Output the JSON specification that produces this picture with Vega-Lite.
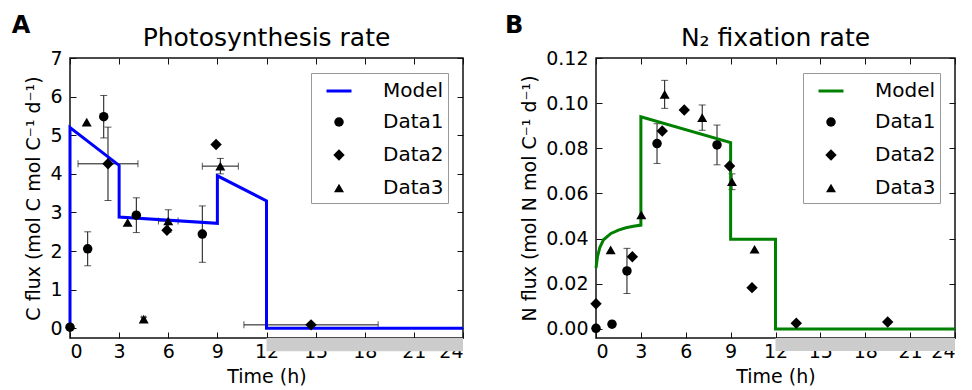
{
  "$schema": "https://vega.github.io/schema/vega-lite/v6.json",
  "background": "white",
  "padding": {"left": 11, "top": 13, "right": 8, "bottom": 2},
  "spacing": 34,
  "datasets": {
    "dark": [{"start": 12, "end": 24}],
    "modelA": [
      {"t": 0, "v": 0}, {"t": 0, "v": 5.2}, {"t": 3, "v": 4.22}, {"t": 3, "v": 2.88},
      {"t": 9, "v": 2.72}, {"t": 9, "v": 3.95}, {"t": 12, "v": 3.3}, {"t": 12, "v": 0}, {"t": 24, "v": 0}
    ],
    "dataA": [
      {"series": "Data1", "t": 0.0, "v": 0.03, "ey": 0, "ex": 0},
      {"series": "Data1", "t": 1.08, "v": 2.06, "ey": 0.44, "ex": 0},
      {"series": "Data1", "t": 2.06, "v": 5.48, "ey": 0.55, "ex": 0},
      {"series": "Data1", "t": 4.05, "v": 2.93, "ey": 0.45, "ex": 0},
      {"series": "Data1", "t": 8.08, "v": 2.44, "ey": 0.73, "ex": 0},
      {"series": "Data2", "t": 2.32, "v": 4.26, "ey": 0.95, "ex": 1.83},
      {"series": "Data2", "t": 5.92, "v": 2.54, "ey": 0, "ex": 0},
      {"series": "Data2", "t": 8.92, "v": 4.76, "ey": 0, "ex": 0},
      {"series": "Data2", "t": 14.72, "v": 0.09, "ey": 0, "ex": 4.1},
      {"series": "Data3", "t": 1.02, "v": 5.34, "ey": 0, "ex": 0},
      {"series": "Data3", "t": 3.52, "v": 2.74, "ey": 0, "ex": 0},
      {"series": "Data3", "t": 4.5, "v": 0.24, "ey": 0.05, "ex": 0.12},
      {"series": "Data3", "t": 6.0, "v": 2.78, "ey": 0.29, "ex": 0.6},
      {"series": "Data3", "t": 9.18, "v": 4.2, "ey": 0.2, "ex": 1.1}
    ],
    "modelB": [
      {"t": 0, "v": 0.027}, {"t": 0.1, "v": 0.032}, {"t": 0.25, "v": 0.036}, {"t": 0.5, "v": 0.0395},
      {"t": 1, "v": 0.0423}, {"t": 1.5, "v": 0.0438}, {"t": 2, "v": 0.0448}, {"t": 2.5, "v": 0.0455},
      {"t": 3, "v": 0.046}, {"t": 3, "v": 0.094}, {"t": 9, "v": 0.0825}, {"t": 9, "v": 0.0397},
      {"t": 12, "v": 0.0397}, {"t": 12, "v": 0}, {"t": 24, "v": 0}
    ],
    "dataB": [
      {"series": "Data1", "t": 0.0, "v": 0.0003, "ey": 0},
      {"series": "Data1", "t": 1.07, "v": 0.0021, "ey": 0},
      {"series": "Data1", "t": 2.07, "v": 0.0257, "ey": 0.01},
      {"series": "Data1", "t": 4.08, "v": 0.0821, "ey": 0.0088},
      {"series": "Data1", "t": 8.09, "v": 0.0815, "ey": 0.0088},
      {"series": "Data2", "t": 0.0, "v": 0.0112, "ey": 0},
      {"series": "Data2", "t": 2.43, "v": 0.032, "ey": 0},
      {"series": "Data2", "t": 4.43, "v": 0.0877, "ey": 0},
      {"series": "Data2", "t": 5.9, "v": 0.097, "ey": 0},
      {"series": "Data2", "t": 8.93, "v": 0.0722, "ey": 0},
      {"series": "Data2", "t": 10.43, "v": 0.0183, "ey": 0},
      {"series": "Data2", "t": 13.39, "v": 0.0025, "ey": 0},
      {"series": "Data2", "t": 19.5, "v": 0.0031, "ey": 0},
      {"series": "Data3", "t": 0.98, "v": 0.035, "ey": 0},
      {"series": "Data3", "t": 3.03, "v": 0.0505, "ey": 0},
      {"series": "Data3", "t": 4.59, "v": 0.1039, "ey": 0.0062},
      {"series": "Data3", "t": 7.1, "v": 0.0936, "ey": 0.0056},
      {"series": "Data3", "t": 9.09, "v": 0.0652, "ey": 0.0035},
      {"series": "Data3", "t": 10.6, "v": 0.0353, "ey": 0}
    ]
  },
  "config": {
    "font": "DejaVu Sans",
    "view": {"stroke": "#111", "strokeWidth": 1.5},
    "axis": {
      "grid": false, "domain": false, "zindex": 1,
      "labelFont": "DejaVu Sans", "titleFont": "DejaVu Sans",
      "labelFontSize": 19, "titleFontSize": 19, "titleFontWeight": "normal",
      "labelColor": "#000", "titleColor": "#000", "tickColor": "#111",
      "tickSize": -6, "tickWidth": 1, "titlePadding": 6
    },
    "axisX": {"labelPadding": 10},
    "axisY": {"labelPadding": 14},
    "legend": {
      "labelFont": "DejaVu Sans", "labelFontSize": 20, "labelColor": "#000",
      "padding": 4, "rowPadding": 10, "strokeColor": "#999", "fillColor": "white",
      "symbolOffset": 10, "labelOffset": 30, "cornerRadius": 0, "symbolStrokeWidth": 3
    }
  },
  "hconcat": [
    {
      "width": 393, "height": 280,
      "resolve": {"axis": {"x": "independent", "y": "independent"}},
      "layer": [
        {
          "data": {"name": "dark"},
          "mark": {"type": "rect", "color": "#cccccc"},
          "encoding": {
            "x": {"field": "start", "type": "quantitative", "scale": {"domain": [0, 24], "nice": false, "zero": false}, "axis": null},
            "x2": {"field": "end"},
            "y": {"datum": -0.25, "type": "quantitative", "scale": {"domain": [-0.25, 7], "nice": false, "zero": false}, "axis": null},
            "y2": {"datum": -0.59}
          }
        },
        {
          "data": {"name": "dataA"},
          "transform": [{"filter": "datum.ey > 0"}],
          "mark": {"type": "errorbar", "ticks": {"size": 7, "thickness": 1}, "color": "#111", "thickness": 1},
          "encoding": {
            "x": {"field": "t", "type": "quantitative", "axis": null},
            "y": {"field": "v", "type": "quantitative", "axis": null},
            "yError": {"field": "ey"}
          }
        },
        {
          "data": {"name": "dataA"},
          "transform": [{"filter": "datum.ex > 0"}],
          "mark": {"type": "errorbar", "ticks": {"size": 7, "thickness": 1}, "color": "#111", "thickness": 1},
          "encoding": {
            "y": {"field": "v", "type": "quantitative", "axis": null},
            "x": {"field": "t", "type": "quantitative", "axis": null},
            "xError": {"field": "ex"}
          }
        },
        {
          "data": {"name": "modelA"},
          "mark": {"type": "line", "color": "#0000ff", "strokeWidth": 3, "strokeJoin": "miter"},
          "encoding": {
            "x": {"field": "t", "type": "quantitative", "axis": null},
            "y": {"field": "v", "type": "quantitative", "axis": null},
            "order": {"value": null}
          }
        },
        {
          "data": {"name": "dataA"},
          "mark": {"type": "point", "filled": true, "opacity": 1, "strokeWidth": 3},
          "encoding": {
            "x": {"field": "t", "type": "quantitative", "title": "Time (h)",
                  "axis": {"values": [0, 3, 6, 9, 12, 15, 18, 21, 24], "orient": "bottom"}},
            "y": {"field": "v", "type": "quantitative", "title": "C flux (mol C mol C⁻¹ d⁻¹)",
                  "axis": {"values": [0, 1, 2, 3, 4, 5, 6, 7], "orient": "left"}},
            "color": {"field": "series", "type": "nominal",
                      "scale": {"domain": ["Model", "Data1", "Data2", "Data3"], "range": ["#0000ff", "#000000", "#000000", "#000000"]},
                      "legend": {"title": null, "orient": "top-right", "offset": 15}},
            "stroke": {"field": "series", "type": "nominal",
                      "scale": {"domain": ["Model", "Data1", "Data2", "Data3"], "range": ["#0000ff", "transparent", "transparent", "transparent"]},
                      "legend": {"title": null, "orient": "top-right", "offset": 15}},
            "shape": {"field": "series", "type": "nominal",
                      "scale": {"domain": ["Model", "Data1", "Data2", "Data3"], "range": ["stroke", "circle", "diamond", "triangle-up"]},
                      "legend": {"title": null, "orient": "top-right", "offset": 15}},
            "size": {"field": "series", "type": "nominal",
                      "scale": {"type": "ordinal", "domain": ["Model", "Data1", "Data2", "Data3"], "range": [625, 90, 130, 100]},
                      "legend": {"title": null, "orient": "top-right", "offset": 15}}
          }
        },
        {
          "data": {"name": "dataA"},
          "mark": {"type": "point", "opacity": 0},
          "encoding": {
            "x": {"field": "t", "type": "quantitative", "axis": {"orient": "top", "labels": false, "title": null, "values": [0, 3, 6, 9, 12, 15, 18, 21, 24]}},
            "y": {"field": "v", "type": "quantitative", "axis": {"orient": "right", "labels": false, "title": null, "values": [0, 1, 2, 3, 4, 5, 6, 7]}}
          }
        },
        {
          "data": {"values": [{}]},
          "mark": {"type": "text", "text": "A", "fontSize": 24, "fontWeight": "bold", "font": "DejaVu Sans", "color": "#000", "align": "center", "baseline": "alphabetic"},
          "encoding": {
            "x": {"datum": -2.99, "type": "quantitative", "axis": null},
            "y": {"datum": 7.646, "type": "quantitative", "axis": null}
          }
        },
        {
          "data": {"values": [{}]},
          "mark": {"type": "text", "text": "Photosynthesis rate", "fontSize": 25, "font": "DejaVu Sans", "color": "#000", "align": "center", "baseline": "alphabetic"},
          "encoding": {
            "x": {"datum": 12, "type": "quantitative", "axis": null},
            "y": {"datum": 7.31, "type": "quantitative", "axis": null}
          }
        }
      ]
    },
    {
      "width": 359, "height": 280,
      "resolve": {"axis": {"x": "independent", "y": "independent"}},
      "layer": [
        {
          "data": {"name": "dark"},
          "mark": {"type": "rect", "color": "#cccccc"},
          "encoding": {
            "x": {"field": "start", "type": "quantitative", "scale": {"domain": [0, 24], "nice": false, "zero": false}, "axis": null},
            "x2": {"field": "end"},
            "y": {"datum": -0.004, "type": "quantitative", "scale": {"domain": [-0.004, 0.12], "nice": false, "zero": false}, "axis": null},
            "y2": {"datum": -0.0098}
          }
        },
        {
          "data": {"name": "dataB"},
          "transform": [{"filter": "datum.ey > 0"}],
          "mark": {"type": "errorbar", "ticks": {"size": 7, "thickness": 1}, "color": "#111", "thickness": 1},
          "encoding": {
            "x": {"field": "t", "type": "quantitative", "axis": null},
            "y": {"field": "v", "type": "quantitative", "axis": null},
            "yError": {"field": "ey"}
          }
        },
        {
          "data": {"name": "modelB"},
          "mark": {"type": "line", "color": "#008000", "strokeWidth": 3, "strokeJoin": "miter"},
          "encoding": {
            "x": {"field": "t", "type": "quantitative", "axis": null},
            "y": {"field": "v", "type": "quantitative", "axis": null},
            "order": {"value": null}
          }
        },
        {
          "data": {"name": "dataB"},
          "mark": {"type": "point", "filled": true, "opacity": 1, "strokeWidth": 3},
          "encoding": {
            "x": {"field": "t", "type": "quantitative", "title": "Time (h)",
                  "axis": {"values": [0, 3, 6, 9, 12, 15, 18, 21, 24], "orient": "bottom"}},
            "y": {"field": "v", "type": "quantitative", "title": "N flux (mol N mol C⁻¹ d⁻¹)",
                  "axis": {"values": [0, 0.02, 0.04, 0.06, 0.08, 0.1, 0.12], "format": ".2f", "orient": "left"}},
            "color": {"field": "series", "type": "nominal",
                      "scale": {"domain": ["Model", "Data1", "Data2", "Data3"], "range": ["#008000", "#000000", "#000000", "#000000"]},
                      "legend": {"title": null, "orient": "top-right", "offset": 15}},
            "stroke": {"field": "series", "type": "nominal",
                      "scale": {"domain": ["Model", "Data1", "Data2", "Data3"], "range": ["#008000", "transparent", "transparent", "transparent"]},
                      "legend": {"title": null, "orient": "top-right", "offset": 15}},
            "shape": {"field": "series", "type": "nominal",
                      "scale": {"domain": ["Model", "Data1", "Data2", "Data3"], "range": ["stroke", "circle", "diamond", "triangle-up"]},
                      "legend": {"title": null, "orient": "top-right", "offset": 15}},
            "size": {"field": "series", "type": "nominal",
                      "scale": {"type": "ordinal", "domain": ["Model", "Data1", "Data2", "Data3"], "range": [625, 90, 130, 100]},
                      "legend": {"title": null, "orient": "top-right", "offset": 15}}
          }
        },
        {
          "data": {"name": "dataB"},
          "mark": {"type": "point", "opacity": 0},
          "encoding": {
            "x": {"field": "t", "type": "quantitative", "axis": {"orient": "top", "labels": false, "title": null, "values": [0, 3, 6, 9, 12, 15, 18, 21, 24]}},
            "y": {"field": "v", "type": "quantitative", "axis": {"orient": "right", "labels": false, "title": null, "values": [0, 0.02, 0.04, 0.06, 0.08, 0.1, 0.12]}}
          }
        },
        {
          "data": {"values": [{}]},
          "mark": {"type": "text", "text": "B", "fontSize": 24, "fontWeight": "bold", "font": "DejaVu Sans", "color": "#000", "align": "center", "baseline": "alphabetic"},
          "encoding": {
            "x": {"datum": -5.48, "type": "quantitative", "axis": null},
            "y": {"datum": 0.1311, "type": "quantitative", "axis": null}
          }
        },
        {
          "data": {"values": [{}]},
          "mark": {"type": "text", "text": "N₂ fixation rate", "fontSize": 25, "font": "DejaVu Sans", "color": "#000", "align": "center", "baseline": "alphabetic"},
          "encoding": {
            "x": {"datum": 12, "type": "quantitative", "axis": null},
            "y": {"datum": 0.1253, "type": "quantitative", "axis": null}
          }
        }
      ]
    }
  ],
  "resolve": {"scale": {"color": "independent", "shape": "independent", "size": "independent", "stroke": "independent"}, "legend": {"color": "independent", "shape": "independent", "size": "independent", "stroke": "independent"}}
}
